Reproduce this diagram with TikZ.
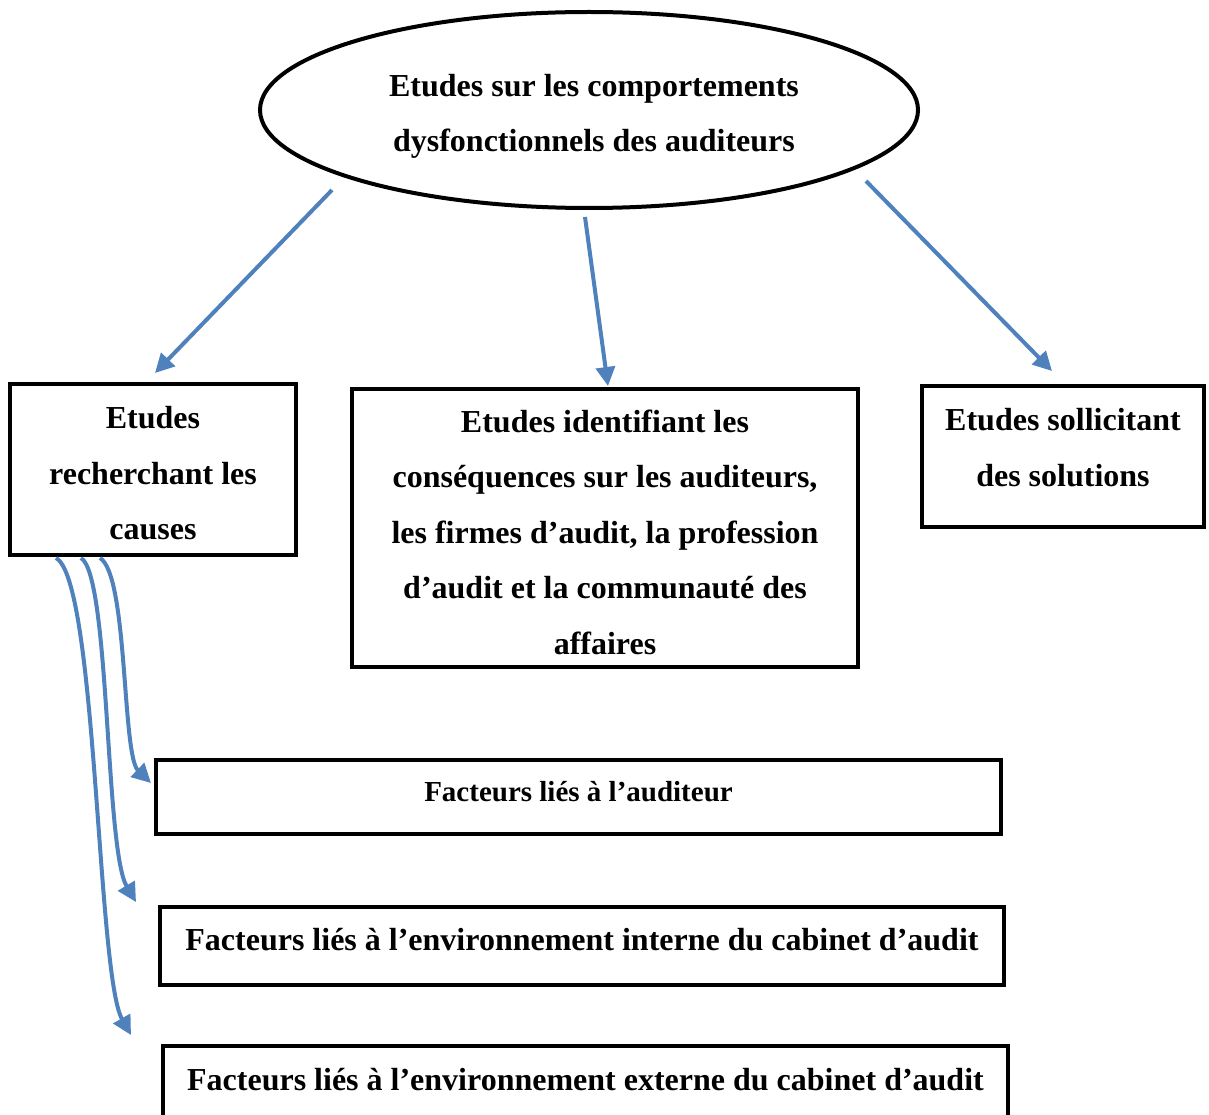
\documentclass[tikz,border=0pt]{standalone}
\usepackage{fontspec}
\setmainfont{Liberation Serif}
\usetikzlibrary{arrows.meta,shapes.geometric}

\definecolor{linkblue}{HTML}{4F81BD}

\tikzset{
  boxtext/.style={align=center, inner sep=0pt,
    font=\bfseries\fontsize{32}{55.5}\selectfont},
  box/.style={draw=black, line width=4pt, inner sep=0pt},
  bubble/.style={draw=black, line width=4pt, ellipse, inner sep=0pt},
  link/.style={draw=linkblue, line width=4pt,
    -{Triangle[width=19pt,length=19pt]}},
}

\begin{document}
\begin{tikzpicture}[x=1pt,y=-1pt]
  \useasboundingbox (0,0) rectangle (1209,1115);

  % main topic
  \node[bubble, minimum width=658, minimum height=196,
    label={[boxtext, xshift=5pt, yshift=-6.5pt]center:{Etudes sur les comportements\\dysfonctionnels des auditeurs}}]
    (ell) at (589,110) {};

  % three families of studies
  \node[box, minimum width=286, minimum height=171,
    label={[boxtext, yshift=-4pt]center:{Etudes\\recherchant les\\causes}}]
    (b1) at (153,469.5) {};
  \node[box, minimum width=506, minimum height=278,
    label={[boxtext, yshift=-4pt]center:{Etudes identifiant les\\cons\'equences sur les auditeurs,\\les firmes d'audit, la profession\\d'audit et la communaut\'e des\\affaires}}]
    (b2) at (605,528) {};
  \node[box, minimum width=282, minimum height=141,
    label={[boxtext, yshift=9pt]center:{Etudes sollicitant\\des solutions}}]
    (b3) at (1063,456.5) {};

  % factors
  \node[box, minimum width=845, minimum height=74,
    label={[boxtext, font=\bfseries\fontsize{29}{40}\selectfont, yshift=5pt]center:{Facteurs li\'es \`a l'auditeur}}]
    (b4) at (578.5,797) {};
  \node[box, minimum width=844, minimum height=78,
    label={[boxtext, yshift=6pt]center:{Facteurs li\'es \`a l'environnement interne du cabinet d'audit}}]
    (b5) at (582,946) {};
  \node[box, minimum width=845, minimum height=78,
    label={[boxtext, yshift=5pt]center:{Facteurs li\'es \`a l'environnement externe du cabinet d'audit}}]
    (b6) at (585.5,1085) {};

  % arrows from the main topic
  \draw[link] ([shift={(-257,80)}]ell.center) -- ([shift={(2,-9)}]b1.north);
  \draw[link] ([shift={(-4,107)}]ell.center) -- ([shift={(3,-1)}]b2.north);
  \draw[link] ([shift={(277,71)}]ell.center) -- ([shift={(-11,-13)}]b3.north);

  % curved arrows from the causes to the factors
  \coordinate (s1) at ([shift={(92,1)}]b1.south west);
  \coordinate (s2) at ([shift={(73,1)}]b1.south west);
  \coordinate (s3) at ([shift={(48,1)}]b1.south west);
  \coordinate (e1) at ([shift={(-3,-14)}]b4.west);
  \coordinate (e2) at ([shift={(-22,-44)}]b5.west);
  \coordinate (e3) at ([shift={(-30,-50)}]b6.west);
  \draw[link] (s1) .. controls (128,575) and (122,755) .. (e1);
  \draw[link] (s2) .. controls (110,575) and (105,850) .. (e2);
  \draw[link] (s3) .. controls (97,580) and (97,975) .. (e3);
\end{tikzpicture}
\end{document}
